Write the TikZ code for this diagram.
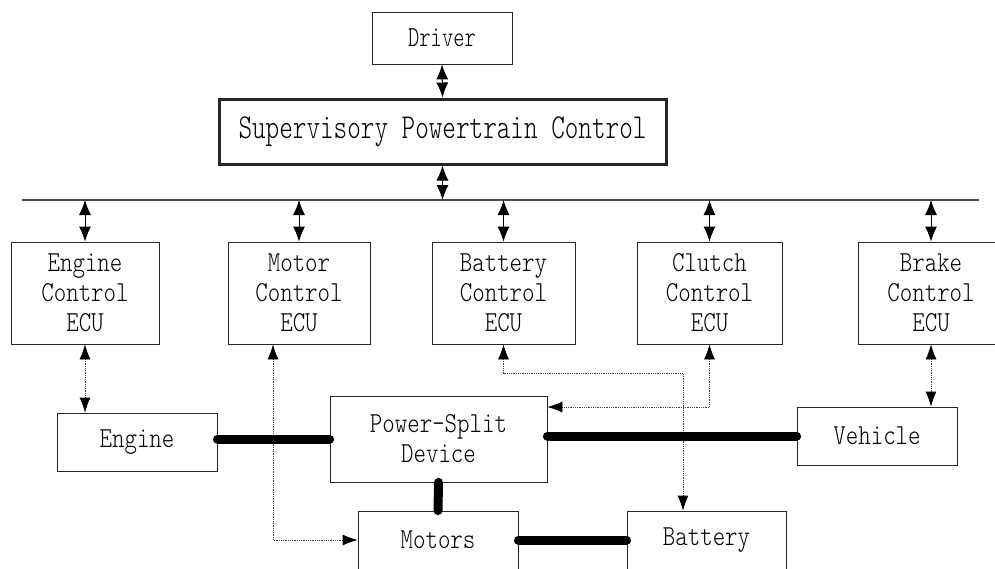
\documentclass[tikz,border=0pt]{standalone}
\usepackage{fontspec}
\newfontfamily\simA{lmmonolt10-regular}[Extension=.otf,FakeStretch=0.82]
\newfontfamily\simB{lmmonolt10-regular}[Extension=.otf,FakeStretch=0.74]
\usetikzlibrary{arrows.meta}
\tikzset{
  box/.style={draw=black!85, line width=0.8pt, inner sep=0pt, align=center},
  ecu/.style={box, minimum height=102pt, font=\simA\fontsize{29}{30}\selectfont},
  unit/.style={box, minimum height=58pt, font=\simA\fontsize{29}{30}\selectfont},
  solidarrow/.style={line width=1pt, {Latex[length=15pt,width=12pt]}-{Latex[length=15pt,width=12pt]}},
  dotline/.style={line width=0.8pt, black!75, densely dotted},
  dotboth/.style={{Latex[length=15pt,width=11pt,black]}-{Latex[length=15pt,width=11pt,black]}},
  shaft/.style={line width=9pt, line cap=round}
}
\begin{document}
\begin{tikzpicture}[x=1pt,y=-1pt]
\useasboundingbox (0,0) rectangle (995,568);
\fill[white] (0,0) rectangle (995,568);
% top
\node[box, minimum width=140pt, minimum height=52pt, font=\simB\fontsize{29}{30}\selectfont] (driver) at (442,38) {Driver};
\node[box, line width=3pt, minimum width=447pt, minimum height=65pt, font=\simB\fontsize{35}{36}\selectfont] (spc) at (442.5,131.5) {Supervisory Powertrain Control};
% bus
\coordinate (busL) at (22,200);
\coordinate (busR) at (979,200);
\draw[line width=1.2pt, black!70] (busL) -- (busR);
% ECUs
\node[ecu, minimum width=148pt] (engecu) at (85,293) {Engine\\Control\\ECU};
\node[ecu, minimum width=142pt] (motecu) at (299,293) {Motor\\Control\\ECU};
\node[ecu, minimum width=143pt] (batecu) at (503.5,293) {Battery\\Control\\ECU};
\node[ecu, minimum width=145pt] (cluecu) at (709.5,293) {Clutch\\Control\\ECU};
\node[ecu, minimum width=146pt] (brkecu) at (931,293) {Brake\\Control\\ECU};
% units
\node[unit, minimum width=160pt] (engine) at (137,442) {Engine};
\node[unit, minimum width=217pt, minimum height=86pt] (psd) at (438.5,439) {Power-Split\\Device};
\node[unit, minimum width=160pt] (vehicle) at (877,436) {Vehicle};
\node[unit, minimum width=160pt] (motors) at (438,540) {Motors};
\node[unit, minimum width=159pt] (battery) at (706.5,540) {Battery};
% solid arrows
\draw[solidarrow] (driver.south) -- (spc.north);
\draw[solidarrow] (spc.south) -- (spc.south |- busL);
\foreach \e in {engecu,motecu,batecu,cluecu,brkecu}
  \draw[solidarrow] (\e.north |- busL) -- (\e.north);
% dotted links
\draw[dotline, dotboth] (engecu.south) -- (engecu.south |- engine.north);
\draw[dotline, dotboth] ([xshift=-26pt]motecu.south) -- ([xshift=-26pt]motecu.south |- motors.west) -- (motors.west);
\draw[dotline, dotboth] (batecu.south) -- ++(0,29) -| ([xshift=-23.5pt]battery.north);
\draw[dotline, dotboth] (cluecu.south) |- ([yshift=32pt]psd.east);
\draw[dotline, dotboth] (brkecu.south) -- (brkecu.south |- vehicle.north);
% mechanical shafts
\draw[shaft] (psd.west -| engine.east) -- (psd.west);
\draw[shaft] (psd.east |- vehicle.west) -- (vehicle.west);
\draw[shaft] (psd.south) -- (motors.north);
\draw[shaft] (motors.east) -- (battery.west);
\end{tikzpicture}
\end{document}
